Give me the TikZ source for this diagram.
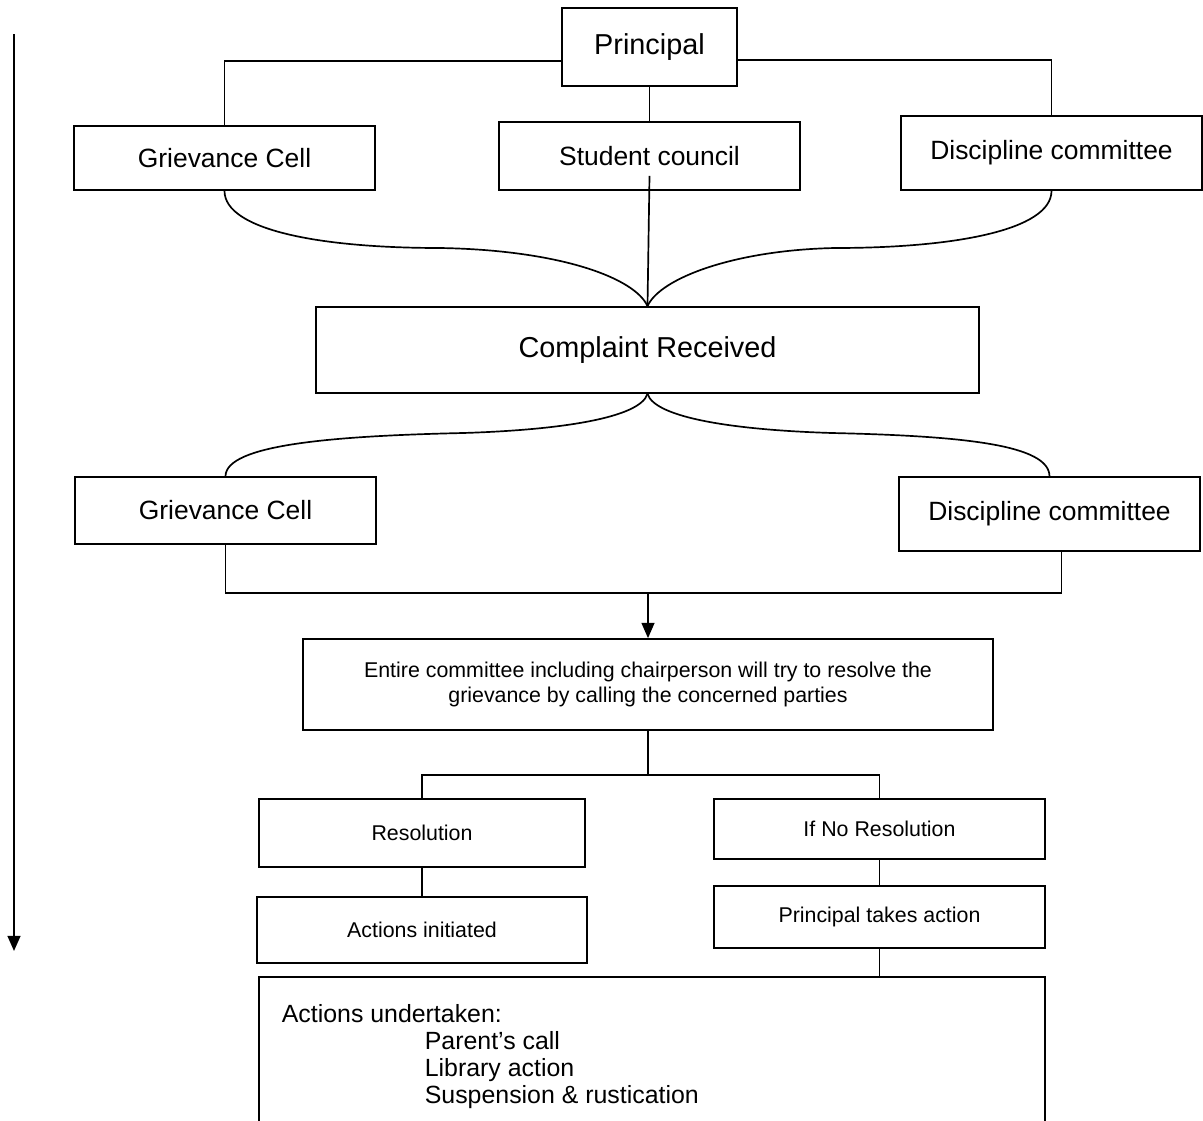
\documentclass[tikz,border=0pt]{standalone}
\usepackage{fontspec}
\setmainfont{Liberation Sans}
\usetikzlibrary{arrows.meta}

\begin{document}
\begin{tikzpicture}[
    x=0.025cm, y=-0.025cm,
    line width=1.2pt,
    >={Triangle[length=0.38cm, width=0.32cm]},
    box/.style={draw, inner sep=0pt, align=center, minimum width=7.525cm},
    bigfont/.style={font=\fontsize{20.5}{24}\selectfont},
    midfont/.style={font=\fontsize{18.8}{22}\selectfont},
    smallfont/.style={font=\fontsize{15.2}{17.8}\selectfont},
    listfont/.style={font=\fontsize{17.7}{21}\selectfont, anchor=base west, inner sep=0pt},
    arrow/.style={->},
]
\useasboundingbox (0,0) rectangle (1203,1120);
\clip (0,0) rectangle (1203,1120);

% top level
\node[box, bigfont, minimum width=4.375cm, minimum height=1.95cm] (principal) at (649.5,47) {Principal};
\node[box, midfont, minimum height=1.6cm] (gcA) at (224.5,158) {Grievance Cell};
\node[box, midfont, minimum height=1.7cm] (council) at (649.5,156) {Student council};
\node[box, midfont, minimum height=1.85cm] (dcA) at (1051.5,153) {Discipline committee};

\draw ([yshift=-0.35cm]principal.west) -| (gcA.north);
\draw (principal.south) -- (council.north);
\draw ([yshift=-0.325cm]principal.east) -| (dcA.north);

\node[box, bigfont, minimum width=16.575cm, minimum height=2.15cm] (complaint) at (647.5,350) {Complaint Received};

\draw (gcA.south) .. controls (224.5,230) and (320,248) .. (440,248)
    .. controls (560,250) and (635,278) .. (complaint.north);
\draw (dcA.south) .. controls (1051.5,230) and (955,248) .. (835,248)
    .. controls (735,250) and (660,278) .. (complaint.north);
\draw ([yshift=0.375cm]council.south) -- (complaint.north);

% second level
\node[box, midfont, minimum height=1.675cm] (gcB) at (225.5,510.5) {Grievance Cell};
\node[box, midfont, minimum height=1.85cm] (dcB) at (1049.5,514) {Discipline committee};

\draw (complaint.south) .. controls (640,418) and (560,430) .. (463,433)
    .. controls (330,436) and (226,445) .. (gcB.north);
\draw (complaint.south) .. controls (655,418) and (735,430) .. (832,433)
    .. controls (965,436) and (1049,445) .. (dcB.north);

\node[box, smallfont, minimum width=17.25cm, minimum height=2.275cm] (entire) at (648,684.5)
    {Entire committee including chairperson will try to resolve the\\grievance by calling the concerned parties};

\coordinate (merge) at (648,593);
\draw (gcB.south) |- (merge) -| ([xshift=0.3cm]dcB.south);
\draw[arrow] (merge) -- (entire.north);

% outcome
\node[box, smallfont, minimum width=8.15cm, minimum height=1.7cm] (res) at (422,833) {Resolution};
\node[box, smallfont, minimum width=8.275cm, minimum height=1.5cm] (nores) at (879.5,829) {If No Resolution};
\node[box, smallfont, minimum width=8.25cm, minimum height=1.65cm] (initiated) at (422,930) {Actions initiated};
\node[box, smallfont, minimum width=8.275cm, minimum height=1.55cm] (ptakes) at (879.5,917) {Principal takes action};

\draw (entire.south) -- ++(0,44) coordinate (split);
\draw (res.north) |- (split) -| (nores.north);
\draw (res.south) -- (initiated.north);
\draw (nores.south) -- (ptakes.north);

\node[box, minimum width=19.65cm, minimum height=4.25cm] (undertaken) at (652,1062) {};
\draw (ptakes.south) -- (ptakes.south |- undertaken.north);

\node[listfont] (undertitle) at (281,1022) {Actions undertaken:};
\node[listfont] (callitem) at (424,1049) {Parent’s call};
\node[listfont] (libitem) at (424,1076) {Library action};
\node[listfont] (suspitem) at (424,1103) {Suspension \& rustication};

% time line
\coordinate (flowtop) at (14,34);
\coordinate (flowend) at (14,951);
\draw[arrow, line width=1.6pt] (flowtop) -- (flowend);

\end{tikzpicture}
\end{document}
